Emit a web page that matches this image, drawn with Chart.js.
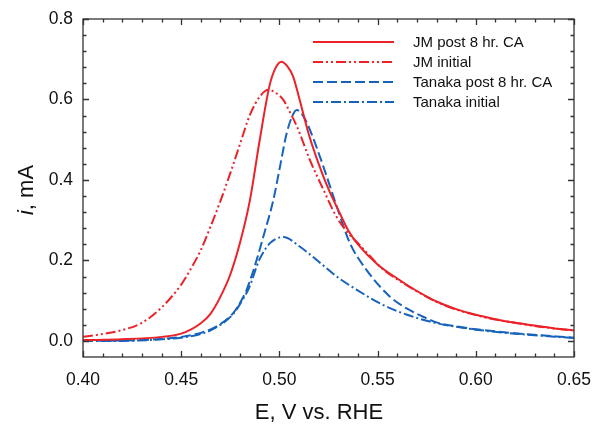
<!DOCTYPE html>
<html><head><meta charset="utf-8">
<script src="https://cdn.jsdelivr.net/npm/chart.js@4/dist/chart.umd.min.js"></script>
<style>html,body{margin:0;padding:0;background:#fff}#wrap{width:593px;height:426px}</style>
</head><body><div id="wrap"><canvas id="c" width="593" height="426"></canvas></div>
<script>
// ---- data ----
const xTicks = [0.40, 0.45, 0.50, 0.55, 0.60, 0.65];
const yTicks = [0.0, 0.2, 0.4, 0.6, 0.8];
const seriesNames = ["JM post 8 hr. CA", "JM initial", "Tanaka post 8 hr. CA", "Tanaka initial"];

const jmPostE = [0.400,0.420,0.440,0.450,0.460,0.465,0.470,0.475,0.480,0.485,0.490,0.495,0.498,0.501,0.504,0.507,0.510,0.515,0.520,0.525,0.530,0.535,0.540,0.550,0.560,0.570,0.580,0.590,0.600,0.610,0.620,0.630,0.640,0.650];
const jmPostI = [0.002,0.004,0.010,0.018,0.044,0.068,0.110,0.165,0.245,0.350,0.500,0.635,0.678,0.694,0.683,0.657,0.605,0.513,0.440,0.377,0.325,0.275,0.240,0.190,0.155,0.124,0.098,0.079,0.065,0.054,0.045,0.038,0.031,0.026];

const jmInitE = [0.400,0.410,0.420,0.430,0.440,0.450,0.455,0.460,0.465,0.470,0.475,0.480,0.485,0.490,0.4945,0.498,0.502,0.505,0.509,0.5155,0.5225,0.529,0.535,0.540,0.553,0.560,0.570,0.580,0.590,0.600,0.610,0.620,0.630,0.640,0.650];
const jmInitI = [0.010,0.017,0.027,0.045,0.083,0.140,0.180,0.226,0.285,0.348,0.417,0.490,0.562,0.607,0.624,0.617,0.599,0.572,0.532,0.450,0.375,0.309,0.268,0.243,0.177,0.153,0.123,0.097,0.078,0.064,0.053,0.045,0.037,0.031,0.026];

const tanPostE = [0.400,0.420,0.440,0.450,0.460,0.468,0.4765,0.480,0.4833,0.4884,0.4918,0.4969,0.5003,0.5037,0.5065,0.5088,0.512,0.5156,0.5224,0.5292,0.5359,0.5444,0.5563,0.565,0.575,0.580,0.590,0.600,0.620,0.650];
const tanPostI = [0.000,0.001,0.005,0.010,0.020,0.036,0.069,0.095,0.127,0.201,0.259,0.350,0.433,0.516,0.558,0.574,0.560,0.524,0.433,0.334,0.243,0.176,0.110,0.080,0.056,0.046,0.036,0.029,0.019,0.008];

const tanInitE = [0.400,0.420,0.440,0.450,0.460,0.468,0.4765,0.480,0.485,0.4884,0.4901,0.4952,0.502,0.5105,0.519,0.5292,0.5394,0.5529,0.565,0.575,0.580,0.590,0.600,0.620,0.650];
const tanInitI = [0.000,0.000,0.004,0.008,0.017,0.034,0.067,0.092,0.137,0.185,0.205,0.243,0.258,0.234,0.201,0.160,0.127,0.089,0.065,0.050,0.044,0.035,0.028,0.018,0.007];

// ---- styles ----
const RED = '#ec2229', BLUE = '#1763bb', AXIS = '#333333';
const FONT = '"Liberation Sans", Arial, Helvetica, sans-serif';
const pts = (xs, ys) => xs.map((x, i) => ({x, y: ys[i]}));

function ds(label, xs, ys, color, dash) {
  return { label, data: pts(xs, ys), borderColor: color, backgroundColor: color,
    borderWidth: 2, borderDash: dash, pointRadius: 0, fill: false,
    cubicInterpolationMode: 'monotone' };
}

const datasets = [
  ds(seriesNames[0], jmPostE, jmPostI, RED, []),
  ds(seriesNames[1], jmInitE, jmInitI, RED, [10,3,2,3,2,3]),
  ds(seriesNames[2], tanPostE, tanPostI, BLUE, [10,4]),
  ds(seriesNames[3], tanInitE, tanInitI, BLUE, [10,3,2,3]),
];

const framePlugin = {
  id: 'frame',
  afterDraw(chart) {
    const {ctx, chartArea: a, scales: {x, y}} = chart;
    ctx.save();
    ctx.strokeStyle = AXIS; ctx.lineWidth = 1.3; ctx.setLineDash([]);
    ctx.strokeRect(a.left, a.top, a.right - a.left, a.bottom - a.top);
    const MJ = 6, MN = 3.5;
    ctx.beginPath();
    for (let k = 0; k <= 25; k++) {
      const v = 0.40 + k * 0.01;
      const px = Math.round(x.getPixelForValue(v)) + 0.5;
      const len = (k % 5 === 0) ? MJ : MN;
      ctx.moveTo(px, a.bottom); ctx.lineTo(px, a.bottom - len);
      ctx.moveTo(px, a.top); ctx.lineTo(px, a.top + len);
    }
    for (let k = 0; k <= 20; k++) {
      const v = k * 0.04;
      const py = Math.round(y.getPixelForValue(v)) + 0.5;
      const len = (k % 5 === 0) ? MJ : MN;
      ctx.moveTo(a.left, py); ctx.lineTo(a.left + len, py);
      ctx.moveTo(a.right, py); ctx.lineTo(a.right - len, py);
    }
    ctx.stroke();
    ctx.restore();
  }
};

const legendPlugin = {
  id: 'customLegend',
  afterDraw(chart) {
    const ctx = chart.ctx;
    ctx.save();
    const x0 = 313, x1 = 394, tx = 413, y0 = 42, dy = 20;
    chart.data.datasets.forEach((d, i) => {
      const yy = y0 + i * dy;
      ctx.strokeStyle = d.borderColor; ctx.lineWidth = 2;
      ctx.setLineDash(d.borderDash || []);
      ctx.beginPath(); ctx.moveTo(x0, yy); ctx.lineTo(x1, yy); ctx.stroke();
      ctx.setLineDash([]);
      ctx.fillStyle = '#111'; ctx.font = '15px ' + FONT;
      ctx.textBaseline = 'middle'; ctx.textAlign = 'left';
      ctx.fillText(d.label, tx, yy + 1);
    });
    ctx.restore();
  }
};

const titlePlugin = {
  id: 'titles',
  afterDraw(chart) {
    const ctx = chart.ctx;
    ctx.save();
    ctx.fillStyle = '#111';
    ctx.textBaseline = 'middle';
    ctx.font = '22px ' + FONT;
    ctx.textAlign = 'center';
    ctx.fillText('E, V vs. RHE', 319, 413);
    ctx.translate(27, 190);
    ctx.rotate(-Math.PI / 2);
    const fI = 'italic 22px ' + FONT, fN = '22px ' + FONT;
    ctx.font = fI; const wI = ctx.measureText('i').width;
    ctx.font = fN; const wR = ctx.measureText(', mA').width;
    const start = -(wI + wR) / 2;
    ctx.textAlign = 'left';
    ctx.font = fI; ctx.fillText('i', start, 0);
    ctx.font = fN; ctx.fillText(', mA', start + wI, 0);
    ctx.restore();
  }
};

new Chart(document.getElementById('c'), {
  type: 'line',
  data: { datasets },
  options: {
    responsive: false, devicePixelRatio: 1, animation: false,
    layout: { padding: { left: 0, right: 19, top: 19, bottom: 0 } },
    plugins: { legend: { display: false }, tooltip: { enabled: false } },
    scales: {
      x: {
        type: 'linear', min: 0.40, max: 0.65,
        grid: { display: false, drawTicks: false }, border: { display: false },
        afterBuildTicks: s => { s.ticks = xTicks.map(v => ({ value: v })); },
        afterFit: s => { s.height = 69; s.paddingLeft = 0; s.paddingRight = 0; },
        ticks: { color: '#111', padding: 13, font: { family: FONT, size: 17.5 },
          maxRotation: 0, autoSkip: false, callback: v => Number(v).toFixed(2) }
      },
      y: {
        type: 'linear', min: -0.04, max: 0.8,
        grid: { display: false, drawTicks: false }, border: { display: false },
        afterBuildTicks: s => { s.ticks = yTicks.map(v => ({ value: v })); },
        afterFit: s => { s.width = 83; s.paddingTop = 0; s.paddingBottom = 0; },
        ticks: { color: '#111', padding: 10, font: { family: FONT, size: 17.5 },
          autoSkip: false, callback: v => Number(v).toFixed(1) }
      }
    }
  },
  plugins: [framePlugin, legendPlugin, titlePlugin]
});
</script>
</body></html>
